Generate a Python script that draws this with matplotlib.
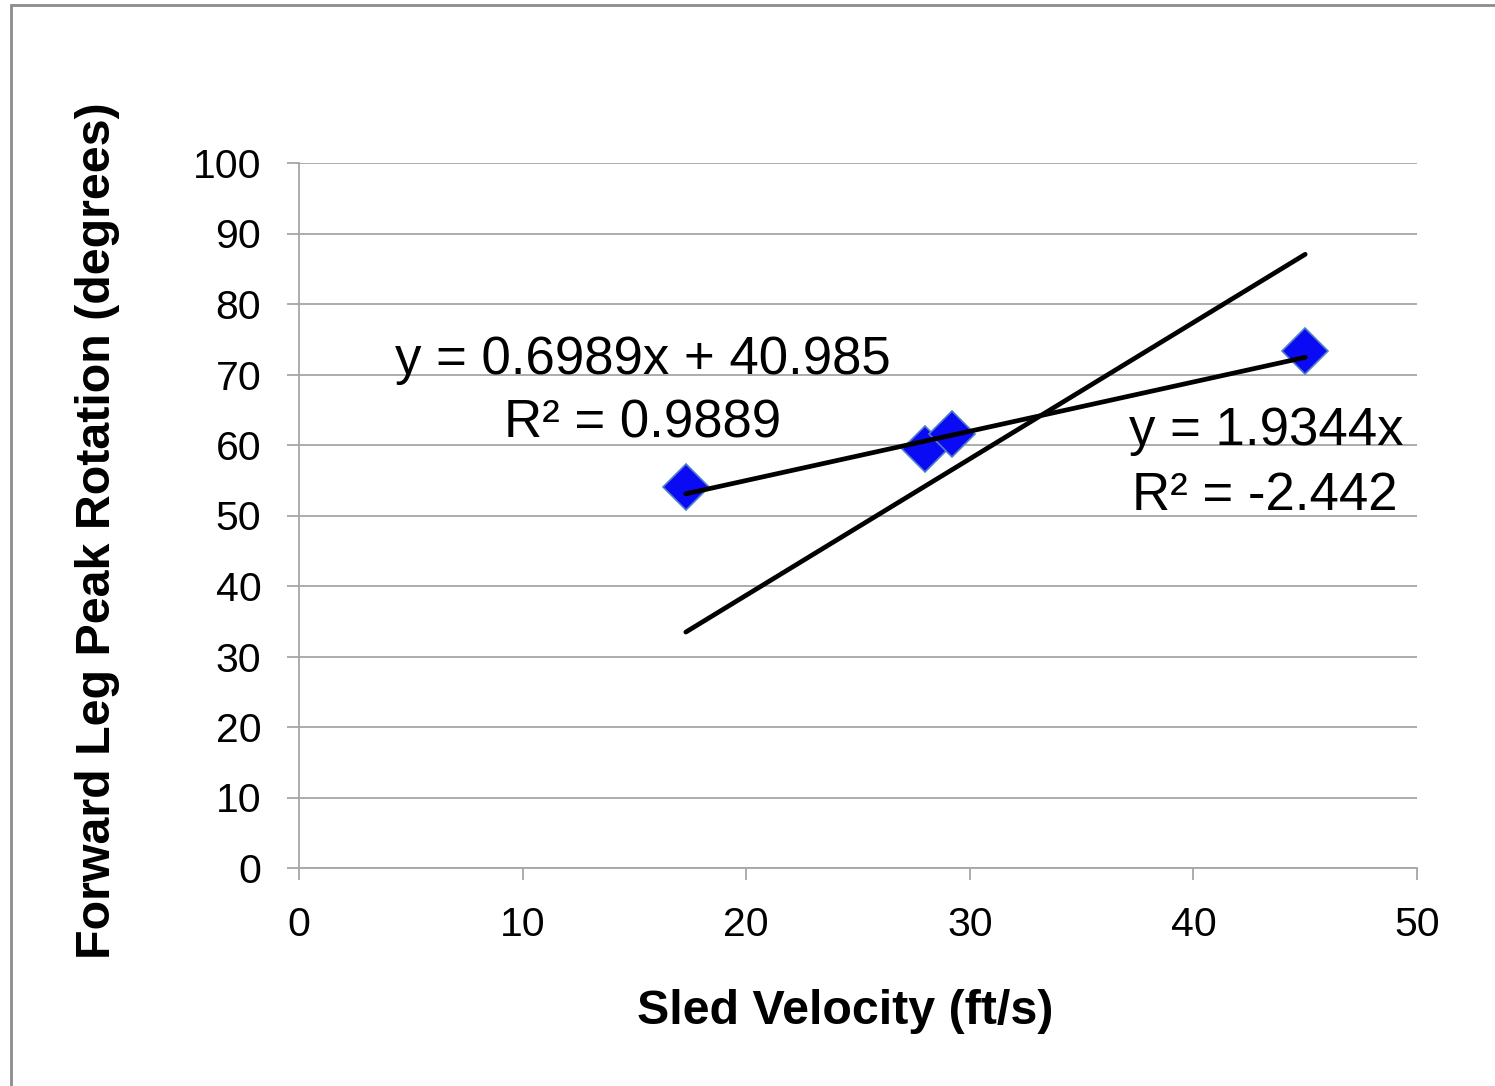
"""
Forward leg peak rotation vs sled velocity, with two trendlines.
"""

import matplotlib
matplotlib.use("Agg")
import matplotlib.pyplot as plt
from matplotlib.patches import Rectangle

plt.rcParams["font.family"] = ["Liberation Sans", "DejaVu Sans"]

# measured points
velocity = [17.3, 28.0, 29.2, 45.0]
rotation = [54.0, 59.5, 61.5, 73.3]

# trendline fits as shown on the chart
fit_slope, fit_icept = 0.6989, 40.985
zero_slope = 1.9344
trend_x = [17.3, 45.0]

x_ticks = [0, 10, 20, 30, 40, 50]
y_ticks = [0, 10, 20, 30, 40, 50, 60, 70, 80, 90, 100]

grid_gray = "#a6a6a6"

fig = plt.figure(figsize=(14.95, 10.86), dpi=100)
ax = fig.add_axes([299 / 1495, 1 - 868 / 1086, (1417 - 299) / 1495, (868 - 163) / 1086])

# outer chart border (left/top visible)
fig.patches.append(Rectangle((11 / 1495, -0.05), 1.2, 1 - 5 / 1086 + 0.05,
                             transform=fig.transFigure, fill=False,
                             edgecolor="#8c8c8c", linewidth=2))

ax.plot(velocity, rotation, linestyle="none", marker="D", markersize=23,
        markerfacecolor="#0a0af5", markeredgecolor="#5080c8", markeredgewidth=1.2,
        zorder=3)

ax.plot(trend_x, [fit_slope * v + fit_icept for v in trend_x], color="black",
        linewidth=3.4, solid_capstyle="round", zorder=4)
ax.plot(trend_x, [zero_slope * v for v in trend_x], color="black",
        linewidth=3.4, solid_capstyle="round", zorder=4)

ax.set_xlim(0, 50)
ax.set_ylim(0, 100)
ax.set_xticks(x_ticks)
ax.set_yticks(y_ticks)
ax.yaxis.grid(True, color=grid_gray, linewidth=1.3)
ax.set_axisbelow(True)
for side in ("top", "right"):
    ax.spines[side].set_visible(False)
for side in ("left", "bottom"):
    ax.spines[side].set_color(grid_gray)
    ax.spines[side].set_linewidth(1.3)
ax.tick_params(axis="both", direction="out", length=8.6, width=1.3, color=grid_gray,
               labelsize=29.5, pad=18.5)

ax.set_xlabel("Sled Velocity (ft/s)", fontsize=34.8, fontweight="bold")
ax.xaxis.set_label_coords((845 - 299) / 1118, -(1024 - 868) / 705)
ax.xaxis.label.set_verticalalignment("baseline")

ax.set_ylabel("Forward Leg Peak Rotation (degrees)", fontsize=34.8, fontweight="bold")
ax.yaxis.set_label_coords((98 - 299) / 1118, (868 - 531) / 705)
ax.yaxis.label.set_verticalalignment("center")

ax.text(15.36, 70.07, "y = 0.6989x + 40.985", fontsize=38, ha="center", va="baseline")
ax.text(15.38, 61.13, "R\u00b2 = 0.9889", fontsize=38, ha="center", va="baseline")
ax.text(43.25, 60.0, "y = 1.9344x", fontsize=38, ha="center", va="baseline")
ax.text(43.2, 50.78, "R\u00b2 = -2.442", fontsize=38, ha="center", va="baseline")

fig.savefig("out.png", dpi=100, facecolor="white")
